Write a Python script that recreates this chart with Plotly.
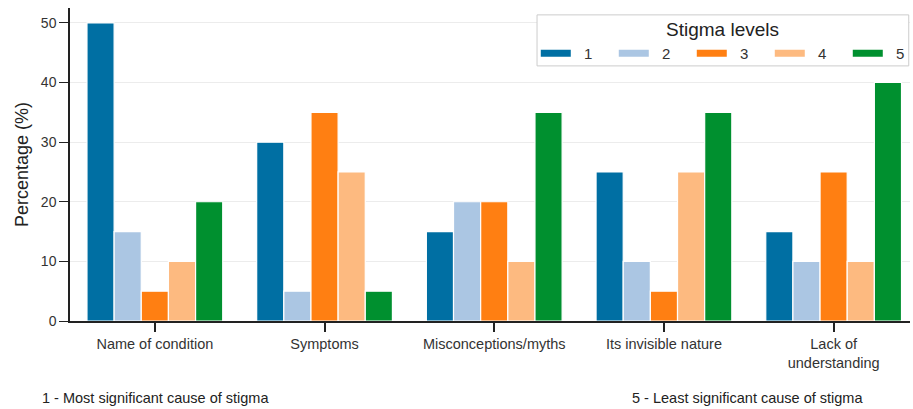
import plotly.graph_objects as go

categories = ["Name of condition", "Symptoms", "Misconceptions/myths",
              "Its invisible nature", "Lack of<br>understanding"]
levels = ["1", "2", "3", "4", "5"]
values = {
    "1": [50, 30, 15, 25, 15],
    "2": [15, 5, 20, 10, 10],
    "3": [5, 35, 20, 5, 25],
    "4": [10, 25, 10, 25, 10],
    "5": [20, 5, 35, 35, 40],
}
colors = ["#006FA3", "#ABC6E3", "#FF7F12", "#FDBA80", "#00902F"]
y_ticks = [0, 10, 20, 30, 40, 50]

fig = go.Figure()
for lev, col in zip(levels, colors):
    fig.add_trace(go.Bar(
        x=categories, y=values[lev], name=lev, showlegend=False,
        marker=dict(color=col, line=dict(color="white", width=1.2)),
    ))
# legend entries drawn as wide patches (line segments)
for lev, col in zip(levels, colors):
    fig.add_trace(go.Scatter(
        x=[None], y=[None], mode="lines", name="\u00a0\u00a0" + lev,
        line=dict(color=col, width=7),
    ))

font = "Liberation Sans, Arial, sans-serif"
fig.update_layout(
    width=913, height=409,
    margin=dict(l=70, r=3, t=8, b=88, autoexpand=False),
    paper_bgcolor="white", plot_bgcolor="white",
    font=dict(family=font, size=14, color="#333"),
    barmode="group", bargap=0.2, bargroupgap=0,
    showlegend=True,
    legend=dict(
        orientation="h", x=0.5545, xanchor="left", y=0.855, yanchor="middle",
        bgcolor="rgba(0,0,0,0)", borderwidth=0,
        font=dict(size=15, color="#333"),
        entrywidth=33, traceorder="normal",
    ),
    shapes=[
        dict(type="rect", xref="paper", yref="paper",
             x0=0.556, x1=0.9985, y0=0.815, y1=0.978,
             fillcolor="white", line=dict(color="#cccccc", width=1),
             layer="above"),
    ],
    xaxis=dict(
        range=[-0.5, 4.45], showline=True, linecolor="#222", linewidth=1.5,
        ticks="outside", ticklen=9, tickwidth=1.5, tickcolor="#222",
        tickfont=dict(size=14.5, color="#333"), showgrid=False,
        automargin=False,
    ),
    yaxis=dict(
        range=[0, 52.5], tickvals=y_ticks, showline=True, linecolor="#222",
        linewidth=1.5, ticks="outside", ticklen=9, tickwidth=1.2,
        tickcolor="#222", tickfont=dict(size=14, color="#333"),
        showgrid=True, gridcolor="#ececec", gridwidth=1, zeroline=False,
        title=dict(text="Percentage (%)", font=dict(size=18, color="#222"),
                   standoff=8),
        automargin=False,
    ),
    annotations=[
        dict(text="Stigma levels", xref="paper", yref="paper",
             x=0.777, y=0.93, xanchor="center", yanchor="middle",
             showarrow=False, font=dict(size=19, color="#222")),
        dict(text="1 - Most significant cause of stigma", xref="paper",
             yref="paper", x=-0.036, y=-0.246, xanchor="left", yanchor="middle",
             showarrow=False, font=dict(size=14.5, color="#222")),
        dict(text="5 - Least significant cause of stigma", xref="paper",
             yref="paper", x=0.807, y=-0.246, xanchor="center", yanchor="middle",
             showarrow=False, font=dict(size=14.5, color="#222")),
    ],
)

fig.write_html("out.html", config={"displayModeBar": False},
               post_script="document.body.style.margin='0';")
